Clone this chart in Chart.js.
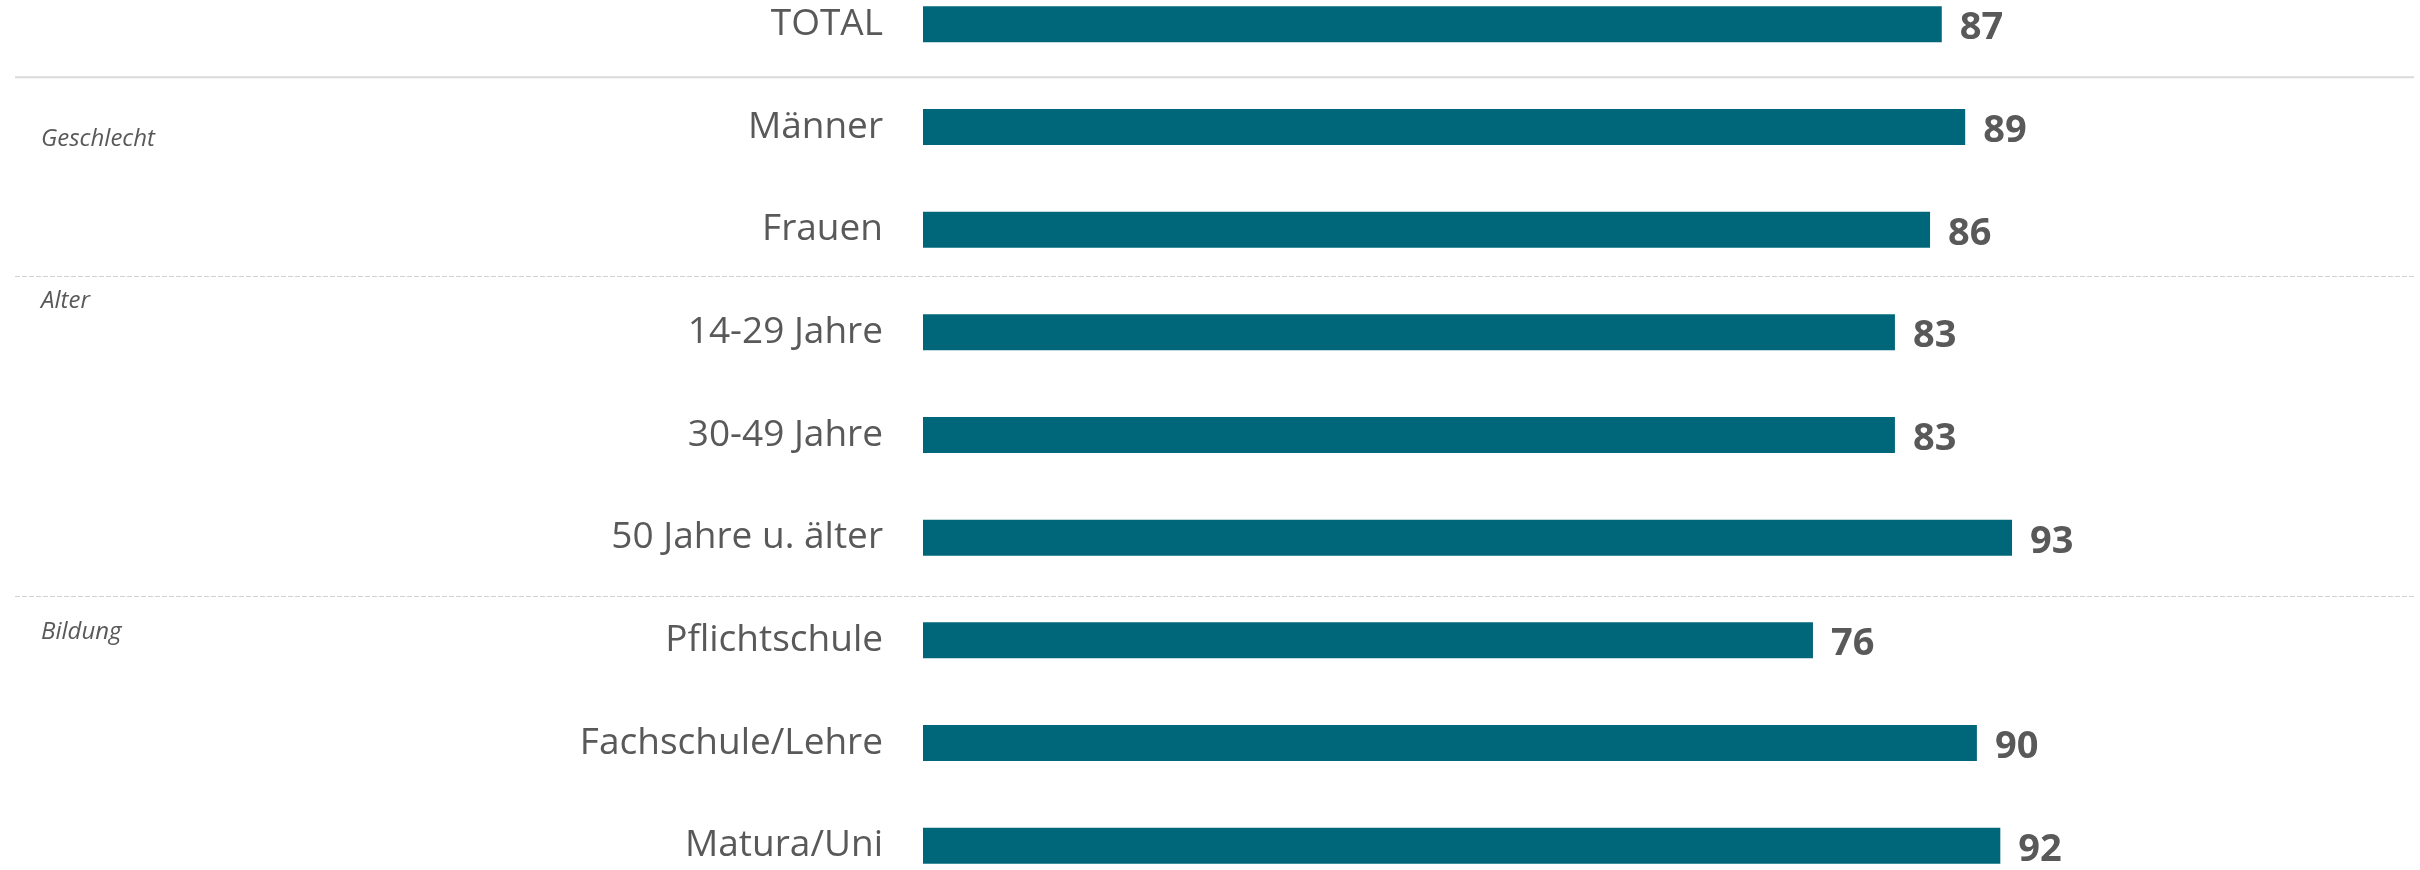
<!DOCTYPE html>
<html>
<head>
<meta charset="utf-8">
<script src="https://cdn.jsdelivr.net/npm/chart.js@4/dist/chart.umd.min.js"></script>
<style>
  html, body { margin: 0; padding: 0; background: #ffffff; overflow: hidden; width: 2420px; height: 870px; }
  #c { position: absolute; left: 0; top: -27px; display: block; }
</style>
</head>
<body>
<canvas id="c" width="2420" height="924" style="width:2420px;height:924px"></canvas>
<script>
// ---- data ----
const categories = ['TOTAL', 'Männer', 'Frauen', '14-29 Jahre', '30-49 Jahre', '50 Jahre u. älter', 'Pflichtschule', 'Fachschule/Lehre', 'Matura/Uni'];
const values = [87, 89, 86, 83, 83, 93, 76, 90, 92];
const groupNames = ['Geschlecht', 'Alter', 'Bildung'];
const groupStart = [1, 3, 6];
const solidSeparatorAfter = [0];
const dashedSeparatorAfter = [2, 5];

// ---- style ----
const BAR = '#00677a';
const TXT = '#595959';
const groupLabelOffset = [12, -31, -8];
const dashedOffset = { 2: -5, 5: 7 };

const overlay = {
  id: 'overlay',
  beforeDatasetsDraw(chart) {
    const ctx = chart.ctx;
    const y = chart.scales.y;
    ctx.save();
    solidSeparatorAfter.forEach(i => {
      const py = (y.getPixelForValue(i) + y.getPixelForValue(i + 1)) / 2 + 1.5;
      ctx.strokeStyle = '#dadada';
      ctx.lineWidth = 2;
      ctx.setLineDash([]);
      ctx.beginPath(); ctx.moveTo(15, py); ctx.lineTo(2414, py); ctx.stroke();
    });
    dashedSeparatorAfter.forEach(i => {
      const py = Math.round((y.getPixelForValue(i) + y.getPixelForValue(i + 1)) / 2 + (dashedOffset[i] || 0)) + 0.5;
      ctx.strokeStyle = '#d3d3d3';
      ctx.lineWidth = 1;
      ctx.setLineDash([5, 2]);
      ctx.beginPath(); ctx.moveTo(15, py); ctx.lineTo(2414, py); ctx.stroke();
    });
    ctx.setLineDash([]);
    ctx.fillStyle = TXT;
    ctx.font = 'italic 24px "Open Sans"';
    ctx.textAlign = 'left';
    ctx.textBaseline = 'middle';
    groupNames.forEach((g, k) => {
      ctx.fillText(g, 41, y.getPixelForValue(groupStart[k]) + groupLabelOffset[k]);
    });
    ctx.restore();
  },
  afterDatasetsDraw(chart) {
    const ctx = chart.ctx;
    const meta = chart.getDatasetMeta(0);
    ctx.save();
    ctx.fillStyle = TXT;
    ctx.font = 'bold 38px "Open Sans"';
    ctx.textAlign = 'left';
    ctx.textBaseline = 'alphabetic';
    meta.data.forEach((bar, i) => {
      ctx.fillText(String(values[i]), bar.x + 18, bar.y + 15);
    });
    ctx.restore();
  }
};

new Chart(document.getElementById('c'), {
  type: 'bar',
  data: {
    labels: categories,
    datasets: [{
      data: values,
      backgroundColor: BAR,
      borderWidth: 0,
      barPercentage: 0.351,
      categoryPercentage: 1.0
    }]
  },
  options: {
    indexAxis: 'y',
    responsive: false,
    maintainAspectRatio: false,
    devicePixelRatio: 1,
    animation: false,
    events: [],
    layout: { padding: { left: 0, right: 326, top: 0, bottom: 0 } },
    plugins: { legend: { display: false }, tooltip: { enabled: false } },
    scales: {
      x: { display: false, min: 0, max: 100 },
      y: {
        display: true,
        border: { display: false },
        grid: { display: false, drawTicks: false },
        ticks: { color: TXT, font: { family: '"Open Sans"', size: 37 }, padding: 40 },
        afterFit(scale) { scale.width = 923; scale.paddingTop = 0; scale.paddingBottom = 0; }
      }
    }
  },
  plugins: [overlay]
});
</script>
</body>
</html>
